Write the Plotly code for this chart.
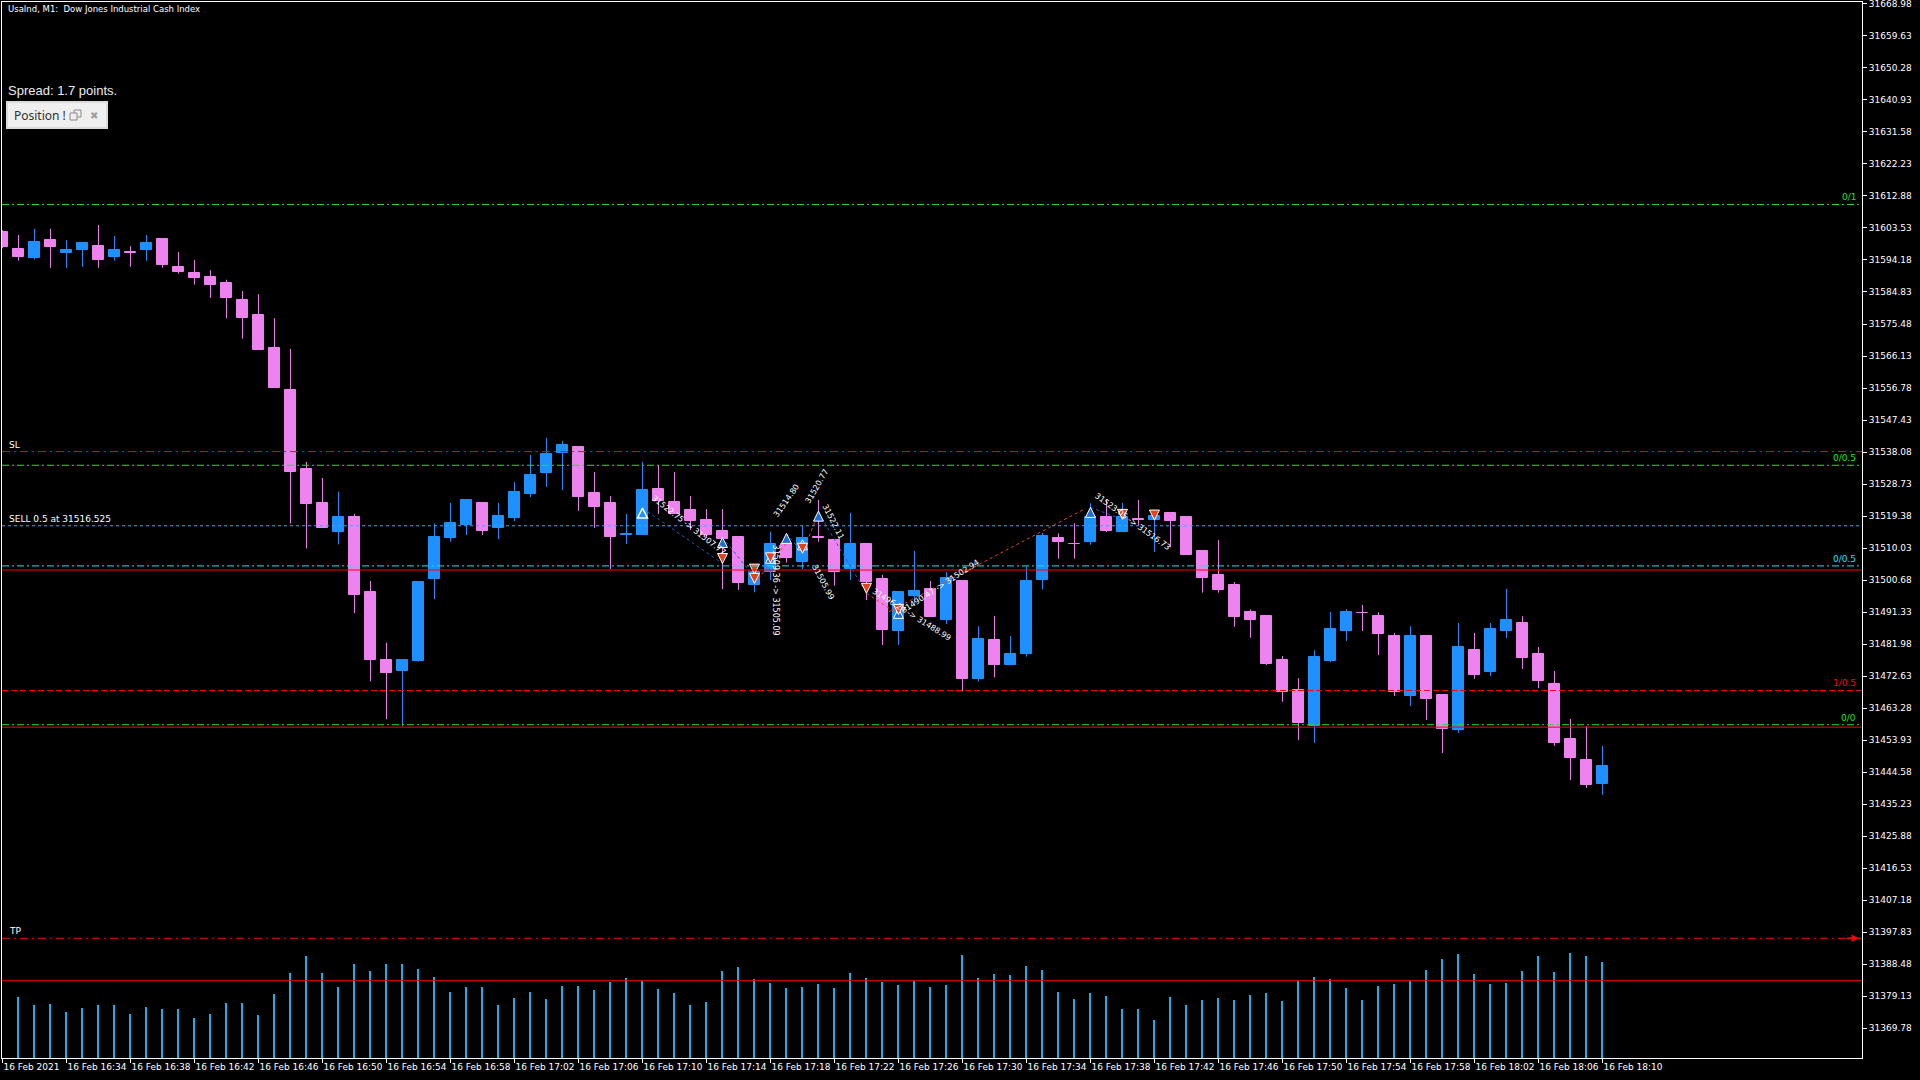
import plotly.graph_objects as go

# ---------------- data ----------------
OPEN = [31602.4, 31597.4, 31594.8, 31600.0, 31596.1, 31597.0, 31598.2, 31595.2, 31596.5, 31597.0,
        31600.3, 31592.1, 31590.4, 31589.2, 31587.5, 31582.5, 31578.1, 31568.5, 31556.2, 31533.2,
        31523.2, 31514.8, 31519.2, 31497.3, 31477.2, 31474.0, 31477.1, 31501.0, 31513.0, 31516.7,
        31523.2, 31516.0, 31518.8, 31525.8, 31532.0, 31537.9, 31539.5, 31526.1, 31523.2, 31513.9,
        31513.8, 31527.3, 31523.5, 31521.1, 31518.2, 31515.0, 31513.2, 31499.2, 31502.9, 31511.2,
        31506.0, 31513.2, 31512.4, 31503.9, 31511.2, 31501.0, 31485.8, 31496.1, 31498.1, 31489.0,
        31500.4, 31471.8, 31483.2, 31475.9, 31479.2, 31500.8, 31512.9, 31511.2, 31511.9, 31519.1,
        31514.8, 31518.4, 31518.2, 31520.3, 31519.1, 31509.2, 31502.1, 31499.2, 31491.3, 31490.2,
        31477.3, 31468.5, 31458.0, 31477.0, 31485.8, 31491.0, 31490.2, 31484.3, 31466.8, 31484.3,
        31467.1, 31456.9, 31480.2, 31473.8, 31485.8, 31488.1, 31479.1, 31470.3, 31454.2, 31448.1,
        31441.1]
HIGH = [31602.9, 31601.5, 31603.3, 31603.3, 31600.0, 31599.1, 31604.4, 31601.2, 31598.2, 31601.5,
        31600.3, 31596.5, 31594.2, 31591.2, 31588.4, 31585.1, 31584.2, 31577.2, 31568.2, 31535.2,
        31530.5, 31526.5, 31520.0, 31500.4, 31482.4, 31477.2, 31500.1, 31517.2, 31523.2, 31524.3,
        31523.2, 31523.2, 31529.3, 31537.2, 31542.2, 31541.3, 31539.5, 31532.2, 31525.2, 31520.0,
        31535.2, 31534.3, 31532.2, 31525.2, 31521.4, 31521.4, 31513.2, 31505.1, 31514.8, 31511.2,
        31516.7, 31524.1, 31512.4, 31520.3, 31511.2, 31502.2, 31497.2, 31509.2, 31500.4, 31503.0,
        31500.4, 31487.2, 31490.2, 31484.3, 31504.6, 31514.5, 31514.3, 31517.3, 31523.1, 31524.1,
        31523.2, 31524.1, 31519.3, 31520.3, 31519.1, 31509.2, 31512.4, 31500.1, 31492.1, 31490.2,
        31478.5, 31472.0, 31480.2, 31491.3, 31492.2, 31493.4, 31491.3, 31485.2, 31487.2, 31484.3,
        31467.1, 31488.1, 31485.2, 31488.1, 31498.1, 31490.1, 31481.1, 31474.1, 31460.1, 31458.0,
        31452.2]
LOW = [31597.6, 31594.0, 31594.3, 31591.9, 31591.9, 31592.2, 31591.9, 31594.0, 31592.2, 31594.0,
       31591.9, 31590.2, 31587.0, 31583.1, 31577.1, 31571.2, 31568.0, 31556.9, 31517.2, 31509.9,
       31516.0, 31511.1, 31491.0, 31471.1, 31460.0, 31458.0, 31476.8, 31495.1, 31511.9, 31513.8,
       31513.8, 31512.6, 31517.9, 31524.9, 31527.9, 31527.0, 31520.9, 31515.9, 31503.9, 31511.2,
       31513.8, 31520.0, 31520.0, 31515.3, 31512.9, 31498.0, 31497.8, 31497.1, 31500.7, 31505.8,
       31503.9, 31511.9, 31499.0, 31500.7, 31494.8, 31481.7, 31481.7, 31493.9, 31490.0, 31487.8,
       31468.1, 31471.0, 31472.2, 31475.9, 31478.3, 31497.9, 31506.9, 31506.9, 31511.0, 31514.7,
       31514.8, 31516.7, 31508.9, 31510.2, 31508.0, 31497.0, 31497.0, 31487.0, 31483.8, 31475.8,
       31465.1, 31453.9, 31453.1, 31476.7, 31482.9, 31485.8, 31478.8, 31466.8, 31463.9, 31459.8,
       31450.1, 31456.0, 31471.8, 31472.6, 31483.7, 31474.7, 31469.1, 31452.2, 31442.2, 31439.9,
       31437.9]
CLOSE = [31598.1, 31595.2, 31599.4, 31598.1, 31597.1, 31599.1, 31594.3, 31597.1, 31596.2, 31599.1,
         31592.8, 31590.8, 31588.8, 31587.0, 31583.0, 31577.1, 31568.0, 31556.9, 31532.1, 31523.0,
         31516.0, 31519.2, 31496.2, 31477.2, 31473.4, 31477.2, 31500.1, 31513.2, 31517.3, 31524.1,
         31515.0, 31519.4, 31526.4, 31531.4, 31537.5, 31540.1, 31525.0, 31522.0, 31513.2, 31514.1,
         31527.0, 31523.8, 31520.0, 31517.9, 31513.8, 31512.6, 31499.8, 31503.1, 31511.2, 31507.0,
         31512.9, 31513.0, 31503.1, 31511.2, 31500.2, 31486.1, 31497.2, 31497.5, 31490.0, 31501.4,
         31471.8, 31483.4, 31475.9, 31479.1, 31500.4, 31513.5, 31511.9, 31511.1, 31519.1, 31515.1,
         31519.1, 31518.3, 31519.3, 31517.9, 31508.0, 31501.4, 31497.8, 31490.0, 31489.0, 31476.2,
         31468.1, 31459.0, 31478.2, 31486.4, 31491.3, 31490.9, 31484.9, 31467.9, 31484.3, 31465.9,
         31457.2, 31481.1, 31472.9, 31486.4, 31489.0, 31477.9, 31471.2, 31453.1, 31448.7, 31440.8,
         31446.3]
VOLUME = [None, 182, 158, 161, 139, 151, 158, 158, 133, 154,
          148, 148, 121, 133, 164, 164, 130, 191, 254, 306,
          254, 212, 281, 260, 281, 281, 266, 242, 197, 212,
          212, 158, 179, 197, 176, 215, 215, 203, 227, 239,
          230, 206, 194, 158, 167, 260, 272, 236, 224, 209,
          212, 221, 209, 254, 239, 227, 218, 230, 212, 218,
          309, 239, 251, 248, 275, 263, 197, 176, 194, 185,
          148, 148, 115, 182, 158, 173, 179, 173, 188, 194,
          170, 230, 242, 236, 209, 173, 215, 221, 230, 263,
          296, 312, 251, 221, 224, 260, 306, 257, 315, 306,
          287]

TIME_LABELS = ["16 Feb 2021", "16 Feb 16:34", "16 Feb 16:38", "16 Feb 16:42", "16 Feb 16:46",
               "16 Feb 16:50", "16 Feb 16:54", "16 Feb 16:58", "16 Feb 17:02", "16 Feb 17:06",
               "16 Feb 17:10", "16 Feb 17:14", "16 Feb 17:18", "16 Feb 17:22", "16 Feb 17:26",
               "16 Feb 17:30", "16 Feb 17:34", "16 Feb 17:38", "16 Feb 17:42", "16 Feb 17:46",
               "16 Feb 17:50", "16 Feb 17:54", "16 Feb 17:58", "16 Feb 18:02", "16 Feb 18:06",
               "16 Feb 18:10"]
TIME_TICK_BARS = [0, 4, 8, 12, 16, 20, 24, 28, 32, 36, 40, 44, 48, 52, 56, 60, 64, 68, 72, 76,
                  80, 84, 88, 92, 96, 100]

PRICE_TICKS = [31668.98, 31659.63, 31650.28, 31640.93, 31631.58, 31622.23, 31612.88, 31603.53,
               31594.18, 31584.83, 31575.48, 31566.13, 31556.78, 31547.43, 31538.08, 31528.73,
               31519.38, 31510.03, 31500.68, 31491.33, 31481.98, 31472.63, 31463.28, 31453.93,
               31444.58, 31435.23, 31425.88, 31416.53, 31407.18, 31397.83, 31388.48, 31379.13,
               31369.78]

# horizontal levels
LEVEL_PRICES = [31610.4, 31538.2, 31534.2, 31516.525, 31504.8, 31503.6, 31468.4, 31458.4, 31457.7,
                31396.0, 31383.6]
LEVEL_COLORS = ["#1EE61E", "#FF0000", "#1EE61E", "#1EB4FF", "#19E6F0", "#FF0000", "#FF0000",
                "#1EE61E", "#FF0000", "#FF0000", "#FF0000"]
LEVEL_DASH = ["7px,3px,2px,3px", "8px,4px,2px,4px", "7px,3px,2px,3px", "3px,3px",
              "7px,3px,2px,3px", "solid", "6px,3px", "7px,3px,2px,3px", "solid",
              "8px,4px,2px,4px", "solid"]
RIGHT_LABELS = ["0/1", "", "0/0.5", "", "0/0.5", "", "1/0.5", "0/0", "", "", ""]
LEFT_LABELS = ["", "SL", "", "SELL 0.5 at 31516.525", "", "", "", "", "", "TP", ""]

# trade history
BLUE_PATH_X = [40, 45, None, 45, 47, None, 49, 50, None, 51, 54, None, 68, 70]
BLUE_PATH_Y = [31521.7, 31505.5, None, 31513.1, 31501.5, None, 31514.3, 31508.5, None,
               31520.4, 31496.8, None, 31521.9, 31518.4]
RED_PATH_X = [47, 49, None, 50, 51, None, 54, 56, None, 55.4, 67.7]
RED_PATH_Y = [31499.7, 31511.5, None, 31508.5, 31520.4, None, 31496.8, 31490.6, None,
              31491.4, 31521.6]
BUY_X = [45, 48, 49, 50, 51, 56, 68]
BUY_Y = [31513.1, 31508.5, 31514.3, 31512.4, 31520.8, 31492.4, 31521.9]
OPEN_BUY_X = [40]
OPEN_BUY_Y = [31521.7]
SELL_X = [45, 47, 47, 48, 50, 54, 56, 70, 72]
SELL_Y = [31505.5, 31502.4, 31499.7, 31505.7, 31508.5, 31496.8, 31490.6, 31518.4, 31518.2]
TRADE_TEXTS = ["31522.75 -> 31507.77", "31509.36 -> 31505.09", "31514.80", "31520.77",
               "31522.11", "31505.99", "31496.24 -> 31488.99", "31490.47 -> 31502.94",
               "31523.05 -> 31516.73"]
TRADE_TEXT_X = [42.9, 48.3, 49.0, 50.9, 51.9, 51.3, 56.8, 58.6, 70.6]
TRADE_TEXT_Y = [31516.6, 31497.8, 31524.0, 31528.0, 31517.7, 31500.0, 31490.5, 31498.7, 31517.7]
TRADE_TEXT_ANGLE = [38, 90, -55, -60, 63, 62, 32, -33, 36]

# ---------------- layout geometry ----------------
W, H = 1920, 1080
ML, MR, MT, MB = 2, 58, 2, 22
PW, PH = W - ML - MR, H - MT - MB


def px(x):
    return (x - ML) / PW


def py(y):
    return 1 - (y - MT) / PH


BULL = "#1E90FF"
BEAR = "#EE82EE"

idx = list(range(len(OPEN)))
bull_i = [i for i in idx if CLOSE[i] >= OPEN[i]]
bear_i = [i for i in idx if CLOSE[i] < OPEN[i]]

fig = go.Figure()

# volume
fig.add_trace(go.Bar(x=idx, y=VOLUME, width=0.125, marker=dict(color="#12B4EE", line=dict(width=0)),
                     yaxis="y2", hoverinfo="skip"))


def wick_xy(ids):
    xs, ys = [], []
    for i in ids:
        xs += [i, i, None]
        ys += [LOW[i], HIGH[i], None]
    return xs, ys


for ids, col in ((bull_i, BULL), (bear_i, BEAR)):
    wx, wy = wick_xy(ids)
    fig.add_trace(go.Scatter(x=wx, y=wy, mode="lines", line=dict(color=col, width=1),
                             hoverinfo="skip"))
    fig.add_trace(go.Bar(x=ids, base=[min(OPEN[i], CLOSE[i]) for i in ids],
                         y=[abs(CLOSE[i] - OPEN[i]) for i in ids], width=0.69,
                         marker=dict(color=col, line=dict(color=col, width=1)), hoverinfo="skip"))

# trade lines
fig.add_trace(go.Scatter(x=BLUE_PATH_X, y=BLUE_PATH_Y, mode="lines",
                         line=dict(color="#1C5FC8", width=1, dash="dot"), hoverinfo="skip"))
fig.add_trace(go.Scatter(x=RED_PATH_X, y=RED_PATH_Y, mode="lines",
                         line=dict(color="#E8461E", width=1, dash="dot"), hoverinfo="skip"))
fig.add_trace(go.Scatter(x=BUY_X, y=BUY_Y, mode="markers",
                         marker=dict(symbol="arrow-up", size=10, color="#1E6ED8",
                                     line=dict(color="white", width=1)), hoverinfo="skip"))
fig.add_trace(go.Scatter(x=OPEN_BUY_X, y=OPEN_BUY_Y, mode="markers",
                         marker=dict(symbol="arrow-up", size=10, color="#1E90FF",
                                     line=dict(color="white", width=1.5)), hoverinfo="skip"))
fig.add_trace(go.Scatter(x=SELL_X, y=SELL_Y, mode="markers",
                         marker=dict(symbol="arrow-down", size=10, color="#E8401A",
                                     line=dict(color="white", width=1)), hoverinfo="skip"))

shapes = []
annotations = []
for p, c, d, rl, ll in zip(LEVEL_PRICES, LEVEL_COLORS, LEVEL_DASH, RIGHT_LABELS, LEFT_LABELS):
    shapes.append(dict(type="line", xref="paper", yref="y", x0=0, x1=1, y0=p, y1=p,
                       line=dict(color=c, width=1, dash=d), layer="above"))
    if rl:
        annotations.append(dict(xref="paper", yref="y", x=px(1858), y=p, text=rl, showarrow=False,
                                xanchor="right", yanchor="bottom", yshift=0,
                                font=dict(color=c, size=9, family="DejaVu Sans")))
    if ll:
        annotations.append(dict(xref="paper", yref="y", x=px(7), y=p, text=ll, showarrow=False,
                                xanchor="left", yanchor="bottom", yshift=0,
                                font=dict(color="white", size=9, family="DejaVu Sans")))

# TP arrow at right edge
annotations.append(dict(xref="paper", yref="y", x=px(1859), y=LEVEL_PRICES[9], ax=-14, ay=0,
                        text="", showarrow=True, arrowhead=2, arrowsize=1, arrowwidth=1.5,
                        arrowcolor="#FF0000"))

for t, tx, ty, ta in zip(TRADE_TEXTS, TRADE_TEXT_X, TRADE_TEXT_Y, TRADE_TEXT_ANGLE):
    annotations.append(dict(xref="x", yref="y", x=tx, y=ty, text=t, textangle=ta, showarrow=False,
                            font=dict(color="white", size=8, family="DejaVu Sans")))

# header texts
annotations.append(dict(xref="paper", yref="paper", x=px(6), y=py(9),
                        text="UsaInd, M1:  Dow Jones Industrial Cash Index", showarrow=False,
                        xanchor="left", yanchor="middle",
                        font=dict(color="white", size=8.5, family="DejaVu Sans")))
annotations.append(dict(xref="paper", yref="paper", x=px(6), y=py(91),
                        text="Spread: 1.7 points.", showarrow=False, xanchor="left", yanchor="middle",
                        font=dict(color="#EDEDED", size=13, family="Liberation Sans")))

# position panel
shapes.append(dict(type="rect", xref="paper", yref="paper", x0=px(7), x1=px(107), y0=py(102),
                   y1=py(128), fillcolor="#EFEFEF", line=dict(color="#DADADA", width=2),
                   layer="above"))
shapes.append(dict(type="rect", xref="paper", yref="paper", x0=px(74), x1=px(81), y0=py(110),
                   y1=py(117), fillcolor="#EFEFEF", line=dict(color="#8A8A8A", width=1),
                   layer="above"))
shapes.append(dict(type="rect", xref="paper", yref="paper", x0=px(70), x1=px(77), y0=py(113),
                   y1=py(120), fillcolor="#EFEFEF", line=dict(color="#8A8A8A", width=1),
                   layer="above"))
annotations.append(dict(xref="paper", yref="paper", x=px(12), y=py(115), text="Position !",
                        showarrow=False, xanchor="left", yanchor="middle",
                        font=dict(color="#303030", size=12, family="Noto Sans")))
annotations.append(dict(xref="paper", yref="paper", x=px(94), y=py(115), text="✖",
                        showarrow=False, xanchor="center", yanchor="middle",
                        font=dict(color="#A0A0A0", size=10, family="DejaVu Sans")))

fig.update_layout(
    width=W, height=H,
    margin=dict(l=ML, r=MR, t=MT, b=MB, pad=0, autoexpand=False),
    paper_bgcolor="black", plot_bgcolor="black",
    showlegend=False, barmode="overlay", bargap=0, hovermode=False,
    font=dict(family="DejaVu Sans", size=9, color="white"),
    shapes=shapes, annotations=annotations,
    xaxis=dict(range=[-0.03, 116.22], showgrid=False, zeroline=False, showline=True, mirror=True,
               linecolor="white", linewidth=1, ticks="outside", ticklen=4, tickcolor="white",
               tickvals=TIME_TICK_BARS, ticktext=TIME_LABELS, ticklabelposition="outside right",
               tickangle=0, automargin=False, ticklabeloverflow="allow",
               tickfont=dict(size=9, color="white", family="DejaVu Sans")),
    yaxis=dict(range=[31361.02, 31669.56], side="right", showgrid=False, zeroline=False,
               showline=True, mirror=True, linecolor="white", linewidth=1, ticks="outside",
               ticklen=4, tickcolor="white", tickvals=PRICE_TICKS, automargin=False,
               ticklabeloverflow="allow",
               ticktext=["%.2f" % v for v in PRICE_TICKS],
               tickfont=dict(size=9, color="white", family="DejaVu Sans")),
    yaxis2=dict(range=[0, 3168], overlaying="y", visible=False),
)

fig.write_html("out.html", config={"displayModeBar": False},
               post_script="document.body.style.margin='0';document.body.style.overflow='hidden';")
